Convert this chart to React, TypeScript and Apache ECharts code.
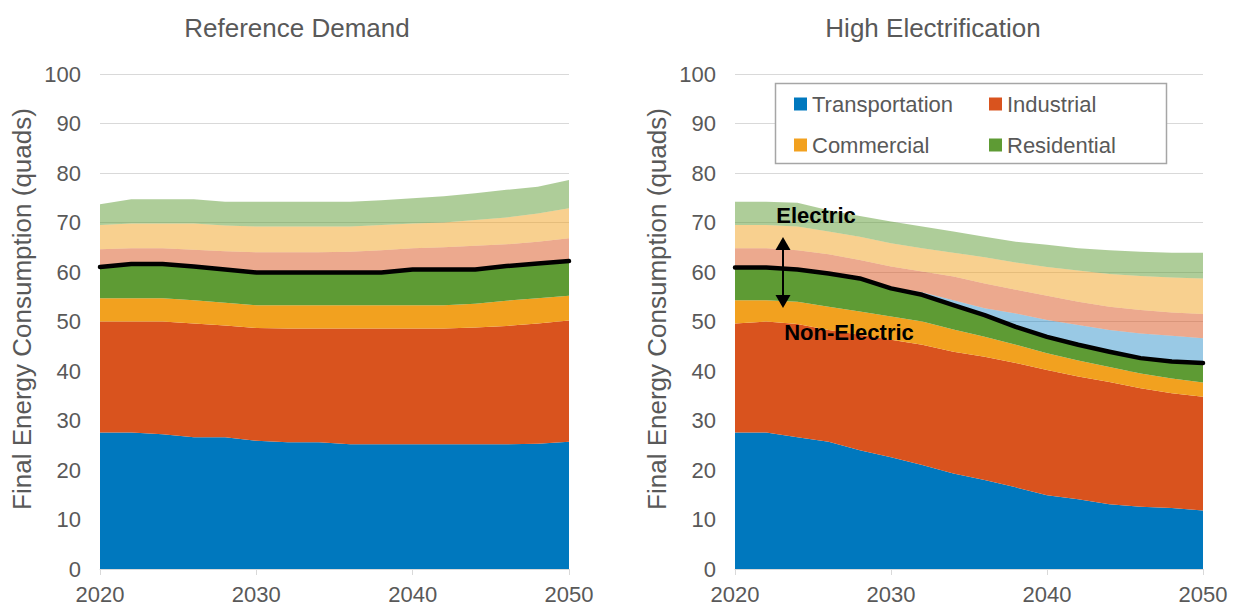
import React, { useEffect, useRef } from "react";
import * as echarts from "echarts";

const years = [2020, 2022, 2024, 2026, 2028, 2030, 2032, 2034, 2036, 2038, 2040, 2042, 2044, 2046, 2048, 2050];

// Reference Demand (quads)
const refTransport = [27.6, 27.6, 27.2, 26.6, 26.6, 25.9, 25.6, 25.6, 25.2, 25.2, 25.2, 25.2, 25.2, 25.2, 25.3, 25.7];
const refIndustrial = [22.4, 22.4, 22.8, 23.0, 22.6, 22.8, 23.0, 23.0, 23.4, 23.4, 23.4, 23.4, 23.6, 23.9, 24.3, 24.5];
const refCommercial = [4.7, 4.7, 4.7, 4.7, 4.6, 4.6, 4.7, 4.7, 4.7, 4.7, 4.7, 4.7, 4.8, 5.1, 5.1, 5.0];
const refResidential = [6.3, 6.9, 6.9, 6.8, 6.7, 6.6, 6.6, 6.6, 6.6, 6.6, 7.2, 7.2, 6.9, 7.0, 7.0, 7.0];
const refElecTransport = [0, 0, 0, 0, 0, 0, 0, 0, 0, 0, 0, 0, 0, 0, 0, 0];
const refElecIndustrial = [3.6, 3.2, 3.2, 3.4, 3.7, 4.1, 4.1, 4.1, 4.2, 4.5, 4.3, 4.5, 4.8, 4.4, 4.4, 4.6];
const refElecCommercial = [4.9, 5.0, 5.0, 5.3, 5.2, 5.2, 5.2, 5.2, 5.1, 5.1, 5.0, 5.0, 5.2, 5.4, 5.7, 6.1];
const refElecResidential = [4.2, 4.9, 4.9, 4.9, 4.8, 5.0, 5.0, 5.0, 5.0, 5.0, 5.1, 5.3, 5.4, 5.6, 5.4, 5.7];

// High Electrification (quads)
const hiTransport = [27.6, 27.6, 26.6, 25.7, 24.0, 22.6, 21.0, 19.3, 18.0, 16.5, 14.9, 14.1, 13.1, 12.6, 12.3, 11.8];
const hiIndustrial = [22.0, 22.4, 22.9, 22.6, 23.3, 23.7, 24.3, 24.6, 24.9, 25.1, 25.3, 24.8, 24.7, 23.9, 23.2, 23.0];
const hiCommercial = [4.7, 4.3, 4.5, 4.7, 4.7, 4.7, 4.7, 4.5, 4.0, 3.7, 3.4, 3.2, 3.0, 3.0, 3.0, 2.9];
const hiResidential = [6.6, 6.6, 6.5, 6.7, 6.7, 5.7, 5.4, 4.9, 4.4, 3.6, 3.3, 3.2, 3.1, 3.1, 3.4, 3.9];
const hiElecTransport = [0, 0, 0, 0, 0, 0.2, 0.5, 1.0, 1.4, 2.7, 3.4, 4.0, 4.4, 5.0, 5.2, 5.0];
const hiElecIndustrial = [3.9, 3.9, 3.9, 3.9, 3.7, 4.2, 4.2, 4.8, 5.0, 4.8, 4.9, 4.7, 4.7, 4.7, 4.7, 4.9];
const hiElecCommercial = [4.7, 4.7, 4.8, 4.6, 4.7, 4.7, 4.7, 4.8, 5.3, 5.5, 5.8, 6.3, 6.6, 6.9, 7.1, 7.2];
const hiElecResidential = [4.7, 4.7, 4.8, 4.3, 4.2, 4.4, 4.4, 4.3, 4.1, 4.2, 4.5, 4.5, 4.8, 4.9, 5.0, 5.2];

const sectors = ["Transportation", "Industrial", "Commercial", "Residential"];
const panelTitles = ["Reference Demand", "High Electrification"];
const yAxisTitle = "Final Energy Consumption (quads)";

const COLORS: Record<string, string> = {
  Transportation: "#0078BE",
  Industrial: "#D9531E",
  Commercial: "#F2A11F",
  Residential: "#5E9B34",
};

const FONT = "'Liberation Sans', Arial, Helvetica, sans-serif";
const GRAY = "#595959";

function buildSeries(idx: number, nonElec: number[][], elec: number[][]) {
  const stack = "s" + idx;
  const out: any[] = [];
  nonElec.forEach((vals, i) => {
    const name = sectors[i];
    const isRes = name === "Residential";
    out.push({
      type: "line",
      name,
      xAxisIndex: idx,
      yAxisIndex: idx,
      stack,
      color: COLORS[name],
      data: vals.slice(),
      showSymbol: false,
      symbol: "none",
      z: isRes ? 5 : 2,
      lineStyle: isRes
        ? { color: "#000000", width: 4.5, cap: "round", join: "round" }
        : { width: 0 },
      areaStyle: { color: COLORS[name], opacity: 1 },
      emphasis: { disabled: true },
      silent: true,
    });
  });
  elec.forEach((vals, i) => {
    const name = sectors[i];
    out.push({
      type: "line",
      name: name + " (electric)",
      xAxisIndex: idx,
      yAxisIndex: idx,
      stack,
      color: COLORS[name],
      data: vals.slice(),
      showSymbol: false,
      symbol: "none",
      z: 2,
      lineStyle: { width: 0 },
      areaStyle: { color: COLORS[name], opacity: name === "Transportation" ? 0.4 : 0.5 },
      emphasis: { disabled: true },
      silent: true,
    });
  });
  return out;
}

export default function App() {
  const ref = useRef<HTMLDivElement>(null);
  useEffect(() => {
    document.body.style.margin = "0";
    if (!ref.current) return;
    const chart = echarts.init(ref.current, undefined, { renderer: "svg" });

    const grids = [
      { left: 100, width: 469, top: 74, height: 495 },
      { left: 735, width: 468, top: 74, height: 495 },
    ];

    const xAxes = grids.map((_, i) => ({
      type: "category",
      gridIndex: i,
      data: years.map(String),
      boundaryGap: false,
      axisLine: { show: true, lineStyle: { color: "#d9d9d9", width: 1 } },
      axisTick: { show: true, length: 6, interval: 4, lineStyle: { color: "#d9d9d9" } },
      splitLine: { show: false },
      axisLabel: {
        color: GRAY,
        fontSize: 22,
        fontFamily: FONT,
        margin: 14,
        interval: 4,
      },
    }));

    const yAxes = grids.map((_, i) => ({
      type: "value",
      gridIndex: i,
      min: 0,
      max: 100,
      interval: 10,
      axisLine: { show: false },
      axisTick: { show: false },
      splitLine: { show: true, lineStyle: { color: "#d9d9d9", width: 1 } },
      axisLabel: { color: GRAY, fontSize: 22, fontFamily: FONT, margin: 19 },
    }));

    const series = [
      ...buildSeries(
        0,
        [refTransport, refIndustrial, refCommercial, refResidential],
        [refElecTransport, refElecIndustrial, refElecCommercial, refElecResidential]
      ),
      ...buildSeries(
        1,
        [hiTransport, hiIndustrial, hiCommercial, hiResidential],
        [hiElecTransport, hiElecIndustrial, hiElecCommercial, hiElecResidential]
      ),
    ];

    const legendCommon = {
      orient: "vertical",
      top: 88,
      itemWidth: 13,
      itemHeight: 13,
      itemGap: 19,
      icon: "rect",
      selectedMode: false,
      textStyle: { color: GRAY, fontSize: 22, fontFamily: FONT },
      z: 20,
    };
    const legendItem = (n: string) => ({
      name: n,
      icon: "rect",
      itemStyle: { color: COLORS[n], borderWidth: 0 },
    });

    const arrowX = 783;
    const graphics: any[] = [
      {
        type: "text",
        x: 297,
        y: 28,
        style: { text: panelTitles[0], fontSize: 26, fill: GRAY, fontFamily: FONT, align: "center", verticalAlign: "middle" },
      },
      {
        type: "text",
        x: 933,
        y: 28,
        style: { text: panelTitles[1], fontSize: 26, fill: GRAY, fontFamily: FONT, align: "center", verticalAlign: "middle" },
      },
      {
        type: "text",
        x: 22,
        y: 309,
        rotation: Math.PI / 2,
        style: { text: yAxisTitle, fontSize: 26, fill: GRAY, fontFamily: FONT, align: "center", verticalAlign: "middle" },
      },
      {
        type: "text",
        x: 657,
        y: 309,
        rotation: Math.PI / 2,
        style: { text: yAxisTitle, fontSize: 26, fill: GRAY, fontFamily: FONT, align: "center", verticalAlign: "middle" },
      },
      {
        type: "rect",
        z: 10,
        shape: { x: 775.5, y: 83.5, width: 391, height: 80 },
        style: { fill: "#ffffff", stroke: "#a6a6a6", lineWidth: 1.5 },
      },
      {
        type: "text",
        z: 30,
        x: 816,
        y: 215,
        style: { text: "Electric", fontSize: 22, fontWeight: "bold", fill: "#000", fontFamily: FONT, align: "center", verticalAlign: "middle" },
      },
      {
        type: "text",
        z: 30,
        x: 849,
        y: 332,
        style: { text: "Non-Electric", fontSize: 22, fontWeight: "bold", fill: "#000", fontFamily: FONT, align: "center", verticalAlign: "middle" },
      },
      {
        type: "line",
        z: 30,
        shape: { x1: arrowX, y1: 248, x2: arrowX, y2: 297 },
        style: { stroke: "#000", lineWidth: 2 },
      },
      {
        type: "polygon",
        z: 30,
        shape: { points: [[arrowX, 237], [arrowX - 7.5, 250], [arrowX + 7.5, 250]] },
        style: { fill: "#000" },
      },
      {
        type: "polygon",
        z: 30,
        shape: { points: [[arrowX, 308], [arrowX - 7.5, 295], [arrowX + 7.5, 295]] },
        style: { fill: "#000" },
      },
    ];

    chart.setOption({
      animation: false,
      backgroundColor: "#ffffff",
      textStyle: { fontFamily: FONT },
      grid: grids,
      xAxis: xAxes,
      yAxis: yAxes,
      legend: [
        { ...legendCommon, left: 789, data: [legendItem("Transportation"), legendItem("Commercial")] },
        { ...legendCommon, left: 984, data: [legendItem("Industrial"), legendItem("Residential")] },
      ],
      series,
      graphic: graphics,
    });

    return () => chart.dispose();
  }, []);

  return <div ref={ref} style={{ width: 1233, height: 608 }} />;
}
